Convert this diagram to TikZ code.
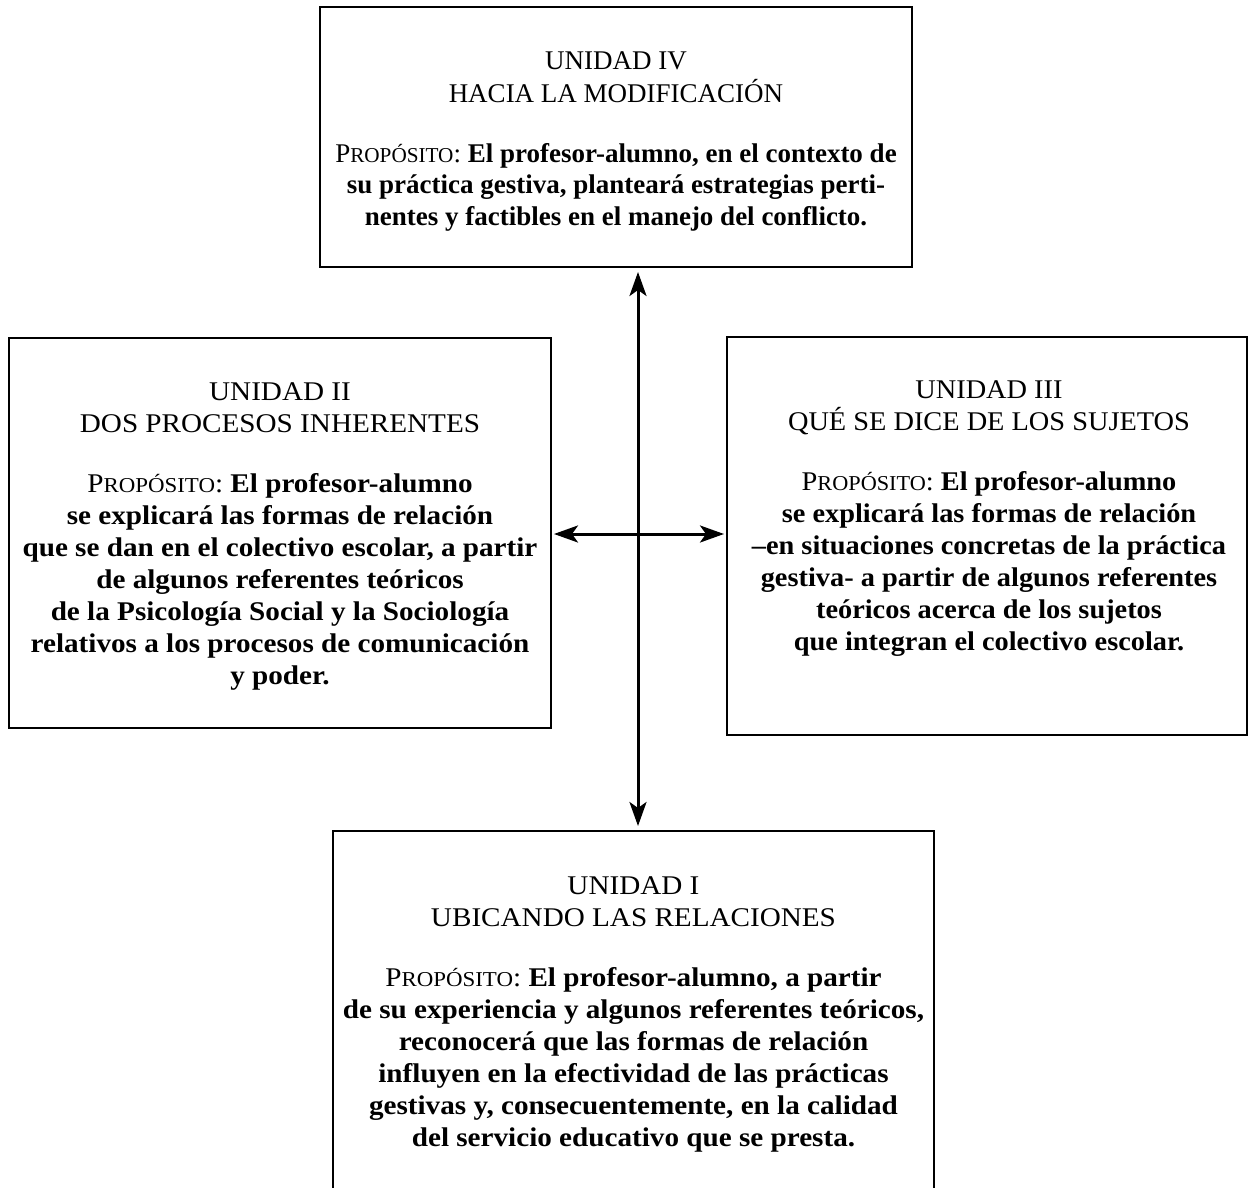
\documentclass[tikz,border=0pt]{standalone}
\usepackage{fontspec}
\setmainfont{Liberation Serif}
\newfontfamily\fuenteM[FakeStretch=1.05]{Liberation Serif}
\newfontfamily\fuenteA[FakeStretch=1.08]{Liberation Serif}
\usetikzlibrary{arrows.meta,positioning}
\newcommand{\prop}{{\mdseries P{\fontsize{10.6}{10}\selectfont ROPÓSITO}:}}
\newcommand{\encab}[2]{{\mdseries #1}\\{\mdseries #2}\\[14pt]}
\tikzset{
  caja/.style={draw,line width=1pt,inner sep=0pt},
  texto/.style={align=center,inner sep=0pt,font=#1\fontsize{13.5}{16}\selectfont\bfseries},
  texto/.default=\relax,
  flecha/.style={{Stealth[length=12pt,width=8.5pt,inset=3pt]}-{Stealth[length=12pt,width=8.5pt,inset=3pt]},line width=1.5pt},
}
\begin{document}
\begin{tikzpicture}[x=0.5pt,y=-0.5pt]
  \clip (0,0) rectangle (1249,1188);
  % cajas
  \node[caja,minimum width=296pt,minimum height=130pt] (u4) at (616,137) {};
  \node[caja,minimum width=271pt,minimum height=195pt] (u2) at (280,533) {};
  \node[caja,minimum width=260pt,minimum height=199pt] (u3) at (987,536) {};
  \node[caja,minimum width=300.5pt,minimum height=184pt] (u1) at (633.5,1015) {};
  % textos
  \node[texto] (t4) at (616,142) {\encab{UNIDAD IV}{HACIA LA MODIFICACIÓN}
    \prop{} El profesor-alumno, en el contexto de\\
    su práctica gestiva, planteará estrategias perti-\\
    nentes y factibles en el manejo del conflicto.};
  \node[texto=\fuenteA] (t2) at (280,536) {\encab{UNIDAD II}{DOS PROCESOS INHERENTES}
    \prop{} El profesor-alumno\\
    se explicará las formas de relación\\
    que se dan en el colectivo escolar, a partir\\
    de algunos referentes teóricos\\
    de la Psicología Social y la Sociología\\
    relativos a los procesos de comunicación\\
    y poder.};
  \node[texto=\fuenteM] (t3) at (989,519) {\encab{UNIDAD III}{QUÉ SE DICE DE LOS SUJETOS}
    \prop{} El profesor-alumno\\
    se explicará las formas de relación\\
    –en situaciones concretas de la práctica\\
    gestiva- a partir de algunos referentes\\
    teóricos acerca de los sujetos\\
    que integran el colectivo escolar.};
  \node[texto=\fuenteA] (t1) at (633.5,1014) {\encab{UNIDAD I}{UBICANDO LAS RELACIONES}
    \prop{} El profesor-alumno, a partir\\
    de su experiencia y algunos referentes teóricos,\\
    reconocerá que las formas de relación\\
    influyen en la efectividad de las prácticas\\
    gestivas y, consecuentemente, en la calidad\\
    del servicio educativo que se presta.};
  % flechas
  \coordinate (eje) at (638,534);
  \draw[flecha,shorten <=2pt,shorten >=2pt] (u4.south -| eje) -- (u1.north -| eje);
  \draw[flecha,shorten <=1pt,shorten >=1pt] (u2.east |- eje) -- (u3.west |- eje);
\end{tikzpicture}
\end{document}
